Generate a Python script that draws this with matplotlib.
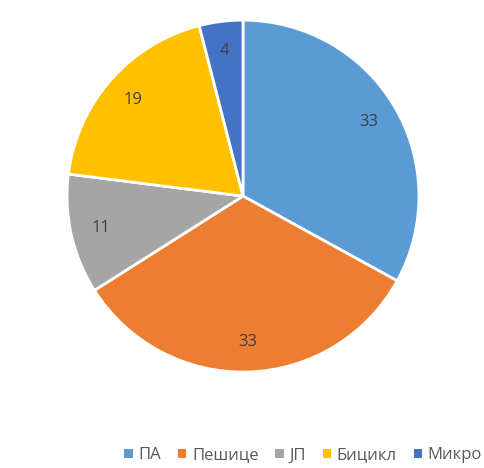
import matplotlib
matplotlib.use("Agg")
import matplotlib.pyplot as plt
from matplotlib.patches import Patch

categories = ["ПА", "Пешице", "ЈП", "Бицикл", "Микро"]
values = [33, 33, 11, 19, 4]
colors = ["#5B9BD5", "#ED7D31", "#A5A5A5", "#FFC000", "#4472C4"]

plt.rcParams['font.family'] = ['Open Sans', 'DejaVu Sans']

fig = plt.figure(figsize=(4.85, 4.68), dpi=100)
ax = fig.add_axes([0.138, 0.205, 0.726, 0.752])
total = sum(values)
wedges, texts, autotexts = ax.pie(
    values, colors=colors, startangle=90, counterclock=False,
    autopct=lambda p: f"{p * total / 100:.0f}", pctdistance=0.83,
    wedgeprops=dict(edgecolor="white", linewidth=2),
    textprops=dict(color="#404040", fontsize=12),
)
ax.set_aspect("equal")
ax.set_xlim(-1.0, 1.0)
ax.set_ylim(-1.0, 1.0)

handles = [Patch(facecolor=c, edgecolor="none") for c in colors]
fig.legend(handles, categories, loc="center", bbox_to_anchor=(0.625, 0.027),
           ncol=5, frameon=False, fontsize=12, handlelength=0.5, handleheight=0.5,
           handletextpad=0.35, columnspacing=1.0, labelcolor="#595959")

fig.savefig("out.png", dpi=100)
